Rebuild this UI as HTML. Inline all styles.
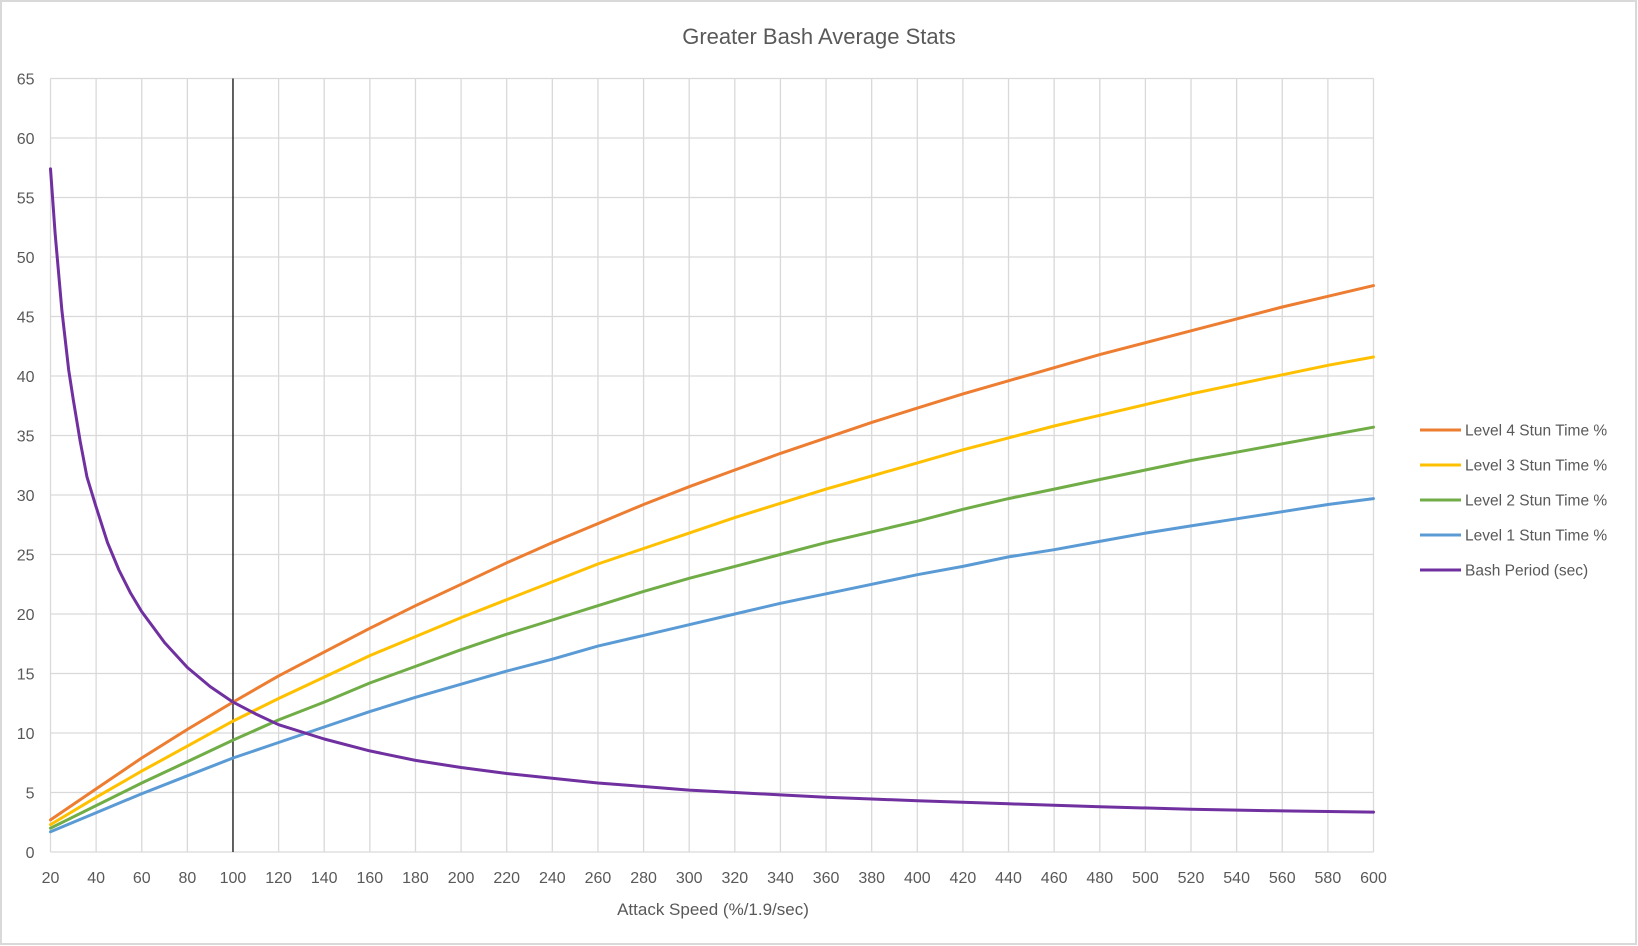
<!DOCTYPE html>
<html><head><meta charset="utf-8"><style>
html,body{margin:0;padding:0;background:#fff}
svg{display:block;font-family:"Liberation Sans",sans-serif}
</style></head><body>
<svg id="chart" width="1638" height="946">
<rect x="1" y="1" width="1635" height="943" fill="#fff" stroke="#d9d9d9" stroke-width="2"/>
<text x="819" y="44" text-anchor="middle" font-size="22" fill="#595959">Greater Bash Average Stats</text>
<g id="grid"></g><g id="axes"></g><g id="series"></g><g id="legend"></g>
<text x="713" y="915" text-anchor="middle" font-size="17" fill="#595959">Attack Speed (%/1.9/sec)</text>
</svg>
<script>
const xs=[20,40,60,80,100,120,140,160,180,200,220,240,260,280,300,320,340,360,380,400,420,440,460,480,500,520,540,560,580,600];
const lvl4=[2.7,5.3,7.9,10.3,12.6,14.8,16.8,18.8,20.7,22.5,24.3,26.0,27.6,29.2,30.7,32.1,33.5,34.8,36.1,37.3,38.5,39.6,40.7,41.8,42.8,43.8,44.8,45.8,46.7,47.6];
const lvl3=[2.3,4.6,6.8,8.9,11.0,12.9,14.7,16.5,18.1,19.7,21.2,22.7,24.2,25.5,26.8,28.1,29.3,30.5,31.6,32.7,33.8,34.8,35.8,36.7,37.6,38.5,39.3,40.1,40.9,41.6];
const lvl2=[2.0,3.9,5.8,7.6,9.4,11.1,12.6,14.2,15.6,17.0,18.3,19.5,20.7,21.9,23.0,24.0,25.0,26.0,26.9,27.8,28.8,29.7,30.5,31.3,32.1,32.9,33.6,34.3,35.0,35.7];
const lvl1=[1.7,3.3,4.9,6.4,7.9,9.2,10.5,11.8,13.0,14.1,15.2,16.2,17.3,18.2,19.1,20.0,20.9,21.7,22.5,23.3,24.0,24.8,25.4,26.1,26.8,27.4,28.0,28.6,29.2,29.7];
const bashX=[20,22,25,28,30,33,36,40,45,50,55,60,70,80,90,100,110,120,140,160,180,200,220,240,260,280,300,320,340,360,380,400,440,480,520,560,600];
const bashY=[57.4,52,45.5,40.5,38,34.5,31.5,29,26,23.7,21.8,20.2,17.6,15.5,13.9,12.6,11.6,10.7,9.5,8.5,7.7,7.1,6.6,6.2,5.8,5.5,5.2,5.0,4.8,4.6,4.45,4.3,4.05,3.8,3.6,3.45,3.35];
const yTicks=[0,5,10,15,20,25,30,35,40,45,50,55,60,65];
const xTicks=xs;
const names=["Level 4 Stun Time %","Level 3 Stun Time %","Level 2 Stun Time %","Level 1 Stun Time %","Bash Period (sec)"];
const markerX=100;

const NS="http://www.w3.org/2000/svg";
const X0=50.5,X1=1373.5,Y0=852,Y1=78.5;
function sx(v){return X0+(v-20)/(600-20)*(X1-X0);}
function sy(v){return Y0-(v/65)*(Y0-Y1);}
function mk(t,a,p){const e=document.createElementNS(NS,t);for(const k in a)e.setAttribute(k,a[k]);p.appendChild(e);return e;}
const grid=document.getElementById('grid'),axes=document.getElementById('axes'),ser=document.getElementById('series'),leg=document.getElementById('legend');
yTicks.forEach(v=>{
 const l=mk('line',{x1:X0,x2:X1,y1:sy(v),y2:sy(v),stroke:'#d9d9d9','stroke-width':1.3},grid);
 
 
 const t=mk('text',{x:X0-16,y:sy(v)+6,'text-anchor':'end','font-size':16,fill:'#595959'},axes);
 t.textContent=v;
 
 
});
xTicks.forEach(v=>{
 const l=mk('line',{x1:sx(v),x2:sx(v),y1:Y1,y2:Y0,stroke:'#d9d9d9','stroke-width':1.3},grid);
 
 
 const t=mk('text',{x:sx(v),y:883,'text-anchor':'middle','font-size':16,fill:'#595959'},axes);
 t.textContent=v;
 
 
});
const ml=mk('line',{x1:sx(markerX),x2:sx(markerX),y1:Y1,y2:Y0,stroke:'#000','stroke-width':1.2},axes);


const colors=['#ed7d31','#ffc000','#70ad47','#5b9bd5','#7030a0'];
const data=[[xs,lvl4],[xs,lvl3],[xs,lvl2],[xs,lvl1],[bashX,bashY]];
const snames=['series-level4','series-level3','series-level2','series-level1','series-bash-period'];
data.forEach((d,i)=>{
 const pts=d[0].map((x,j)=>sx(x).toFixed(1)+','+sy(d[1][j]).toFixed(1)).join(' ');
 const p=mk('polyline',{points:pts,fill:'none',stroke:colors[i],'stroke-width':3,'stroke-linejoin':'round','stroke-linecap':'round'},ser);
 
 
 const ly=430+i*35;
 const g=mk('g',{},leg);
 
 
 mk('line',{x1:1420,x2:1461,y1:ly,y2:ly,stroke:colors[i],'stroke-width':3},g);
 const t=mk('text',{x:1465,y:ly+5.5,'font-size':15.5,fill:'#595959'},g);
 t.textContent=names[i];
});
</script>
</body></html>
